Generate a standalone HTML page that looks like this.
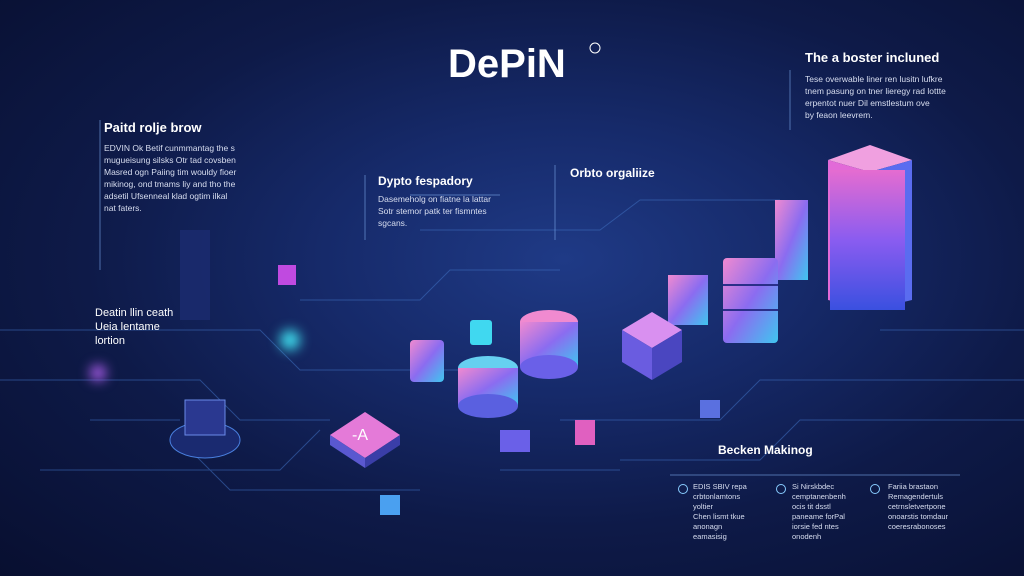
<!DOCTYPE html>
<html><head><meta charset="utf-8"><style>
*{margin:0;padding:0;box-sizing:border-box}
body{width:1024px;height:576px;overflow:hidden;position:relative;font-family:"Liberation Sans",sans-serif;
background:radial-gradient(ellipse at 55% 45%,#1f3a86 0%,#162a6a 30%,#0e1a48 60%,#080f30 100%);color:#fff}
.a{position:absolute}
.t{position:absolute;font-weight:bold;color:#fff}
.p{position:absolute;font-size:8.5px;line-height:12px;color:#d8def0}
.g{position:absolute;border-radius:50%;filter:blur(6px)}
</style></head><body>
<svg class="a" style="left:0;top:0" width="1024" height="576">
<g stroke="#3f6fc0" stroke-width="1" fill="none" opacity=".55">
<path d="M0 330 H260 L300 370 H470"/><path d="M0 380 H200 L240 420 H330"/><path d="M40 470 H280 L320 430"/>
<path d="M560 420 H720 L760 380 H1024"/><path d="M620 460 H760 L800 420 H1024"/><path d="M300 300 H420 L450 270 H560"/>
<path d="M180 440 L230 490 H420"/><path d="M880 330 H1024"/><path d="M420 230 H600 L640 200 H780"/>
<path d="M90 420 H180"/><path d="M500 470 H620"/>
</g>
<g stroke="#7aa6e8" stroke-width="1" opacity=".6">
<line x1="100" y1="120" x2="100" y2="270"/><line x1="365" y1="175" x2="365" y2="240"/>
<line x1="555" y1="165" x2="555" y2="240"/><line x1="790" y1="70" x2="790" y2="130"/>
<line x1="670" y1="475" x2="960" y2="475"/><line x1="410" y1="195" x2="500" y2="195"/>
</g>
<defs>
<linearGradient id="gb" x1="0" y1="0" x2="0" y2="1"><stop offset="0" stop-color="#e56cd0"/><stop offset=".5" stop-color="#8a5cf0"/><stop offset="1" stop-color="#3a50e0"/></linearGradient>
<linearGradient id="gc" x1="0" y1="0" x2="1" y2="1"><stop offset="0" stop-color="#f08ad0"/><stop offset=".5" stop-color="#8b6cf0"/><stop offset="1" stop-color="#3fc6f0"/></linearGradient>
</defs>
<polygon points="828,160 870,145 912,160 870,172" fill="#f0a0e0"/>
<polygon points="828,160 870,172 870,310 828,300" fill="#e26ad8"/>
<polygon points="870,172 912,160 912,300 870,310" fill="#5a6cf0"/>
<rect x="830" y="170" width="75" height="140" fill="url(#gb)"/>
<rect x="775" y="200" width="33" height="80" fill="url(#gc)"/>
<rect x="723" y="258" width="55" height="85" rx="4" fill="url(#gc)"/>
<g stroke="#2a2f8a" stroke-width="2"><line x1="723" y1="285" x2="778" y2="285"/><line x1="723" y1="310" x2="778" y2="310"/></g>
<rect x="668" y="275" width="40" height="50" fill="url(#gc)"/>
<polygon points="622,330 652,312 682,330 652,348" fill="#d990f0"/>
<polygon points="622,330 652,348 652,380 622,362" fill="#6a5ce0"/>
<polygon points="652,348 682,330 682,362 652,380" fill="#4a46c0"/>
<ellipse cx="549" cy="322" rx="29" ry="12" fill="#f08ad0"/><rect x="520" y="322" width="58" height="45" fill="url(#gc)"/><ellipse cx="549" cy="367" rx="29" ry="12" fill="#6a60e8"/>
<ellipse cx="488" cy="368" rx="30" ry="12" fill="#66d0f0"/><rect x="458" y="368" width="60" height="38" fill="url(#gc)"/><ellipse cx="488" cy="406" rx="30" ry="12" fill="#5a60e0"/>
<rect x="410" y="340" width="34" height="42" rx="4" fill="url(#gc)"/>
<rect x="470" y="320" width="22" height="25" rx="3" fill="#40d8f0"/>
<polygon points="330,435 365,412 400,435 365,458" fill="#e47ad8"/>
<polygon points="330,435 365,458 365,468 330,445" fill="#5a58d0"/><polygon points="365,458 400,435 400,445 365,468" fill="#3a3ea8"/>
<text x="352" y="440" font-size="16" fill="#fff" font-family="Liberation Sans">-A</text>
<ellipse cx="205" cy="440" rx="35" ry="18" fill="#1a2a70" stroke="#4a80e0"/>
<rect x="185" y="400" width="40" height="35" fill="#2a3890" stroke="#6a8ae8"/>
<rect x="278" y="265" width="18" height="20" fill="#c04ae0"/>
<rect x="575" y="420" width="20" height="25" fill="#e060c0"/>
<rect x="500" y="430" width="30" height="22" fill="#6a60e8"/>
<rect x="380" y="495" width="20" height="20" fill="#4aa0f0"/>
<rect x="180" y="230" width="30" height="90" fill="#1c2c70" opacity=".8"/>
<rect x="700" y="400" width="20" height="18" fill="#5a70e0"/>
<circle cx="595" cy="48" r="5" fill="none" stroke="#fff" stroke-width="1"/>
</svg>
<div class="g" style="left:280px;top:330px;width:20px;height:20px;background:#40e0f0"></div>
<div class="g" style="left:90px;top:365px;width:16px;height:16px;background:#b060f0"></div>
<div class="t" style="left:448px;top:42px;font-size:40px">DePiN</div>
<div class="t" style="left:805px;top:50px;font-size:13px">The a boster incluned</div>
<div class="p" style="left:805px;top:73px;width:150px">Tese overwable liner ren lusitn lufkre<br>tnem pasung on tner lieregy rad lottte<br>erpentot nuer Dil emstlestum ove<br>by feaon leevrem.</div>
<div class="t" style="left:104px;top:120px;font-size:13px">Paitd rolje brow</div>
<div class="p" style="left:104px;top:142px;width:170px">EDVIN Ok Betif cunmmantag the s<br>mugueisung silsks Otr tad covsben<br>Masred ogn Paiing tim wouldy fioer<br>mikinog, ond tmams liy and tho the<br>adsetil Ufsenneal klad ogtim ilkal<br>nat faters.</div>
<div class="t" style="left:378px;top:174px;font-size:12px">Dypto fespadory</div>
<div class="p" style="left:378px;top:193px;width:130px">Dasemeholg on fiatne la lattar<br>Sotr stemor patk ter fismntes<br>sgcans.</div>
<div class="t" style="left:570px;top:166px;font-size:12px">Orbto orgaliize</div>
<div class="t" style="left:95px;top:306px;font-size:11px;font-weight:normal;line-height:14px">Deatin llin ceath<br>Ueia lentame<br>lortion</div>
<div class="t" style="left:718px;top:443px;font-size:12px">Becken Makinog</div>
<div class="p" style="left:693px;top:482px;width:70px;font-size:7.5px;line-height:10px">EDIS SBIV repa<br>crbtonlamtons<br>yoltier<br>Chen lismt tkue<br>anonagn<br>eamasisig</div>
<div class="p" style="left:792px;top:482px;width:70px;font-size:7.5px;line-height:10px">Si Nirskbdec<br>cemptanenbenh<br>ocis tit dsstl<br>paneame forPal<br>iorsie fed ntes<br>onodenh</div>
<div class="p" style="left:888px;top:482px;width:80px;font-size:7.5px;line-height:10px">Fariia brastaon<br>Remagendertuls<br>cetrnsletvertpone<br>onoarstis tomdaur<br>coeresrabonoses</div>
<div class="a" style="left:678px;top:484px;width:10px;height:10px;border:1px solid #8cf;border-radius:50%"></div>
<div class="a" style="left:776px;top:484px;width:10px;height:10px;border:1px solid #8cf;border-radius:50%"></div>
<div class="a" style="left:870px;top:484px;width:10px;height:10px;border:1px solid #8cf;border-radius:50%"></div>
</body></html>
